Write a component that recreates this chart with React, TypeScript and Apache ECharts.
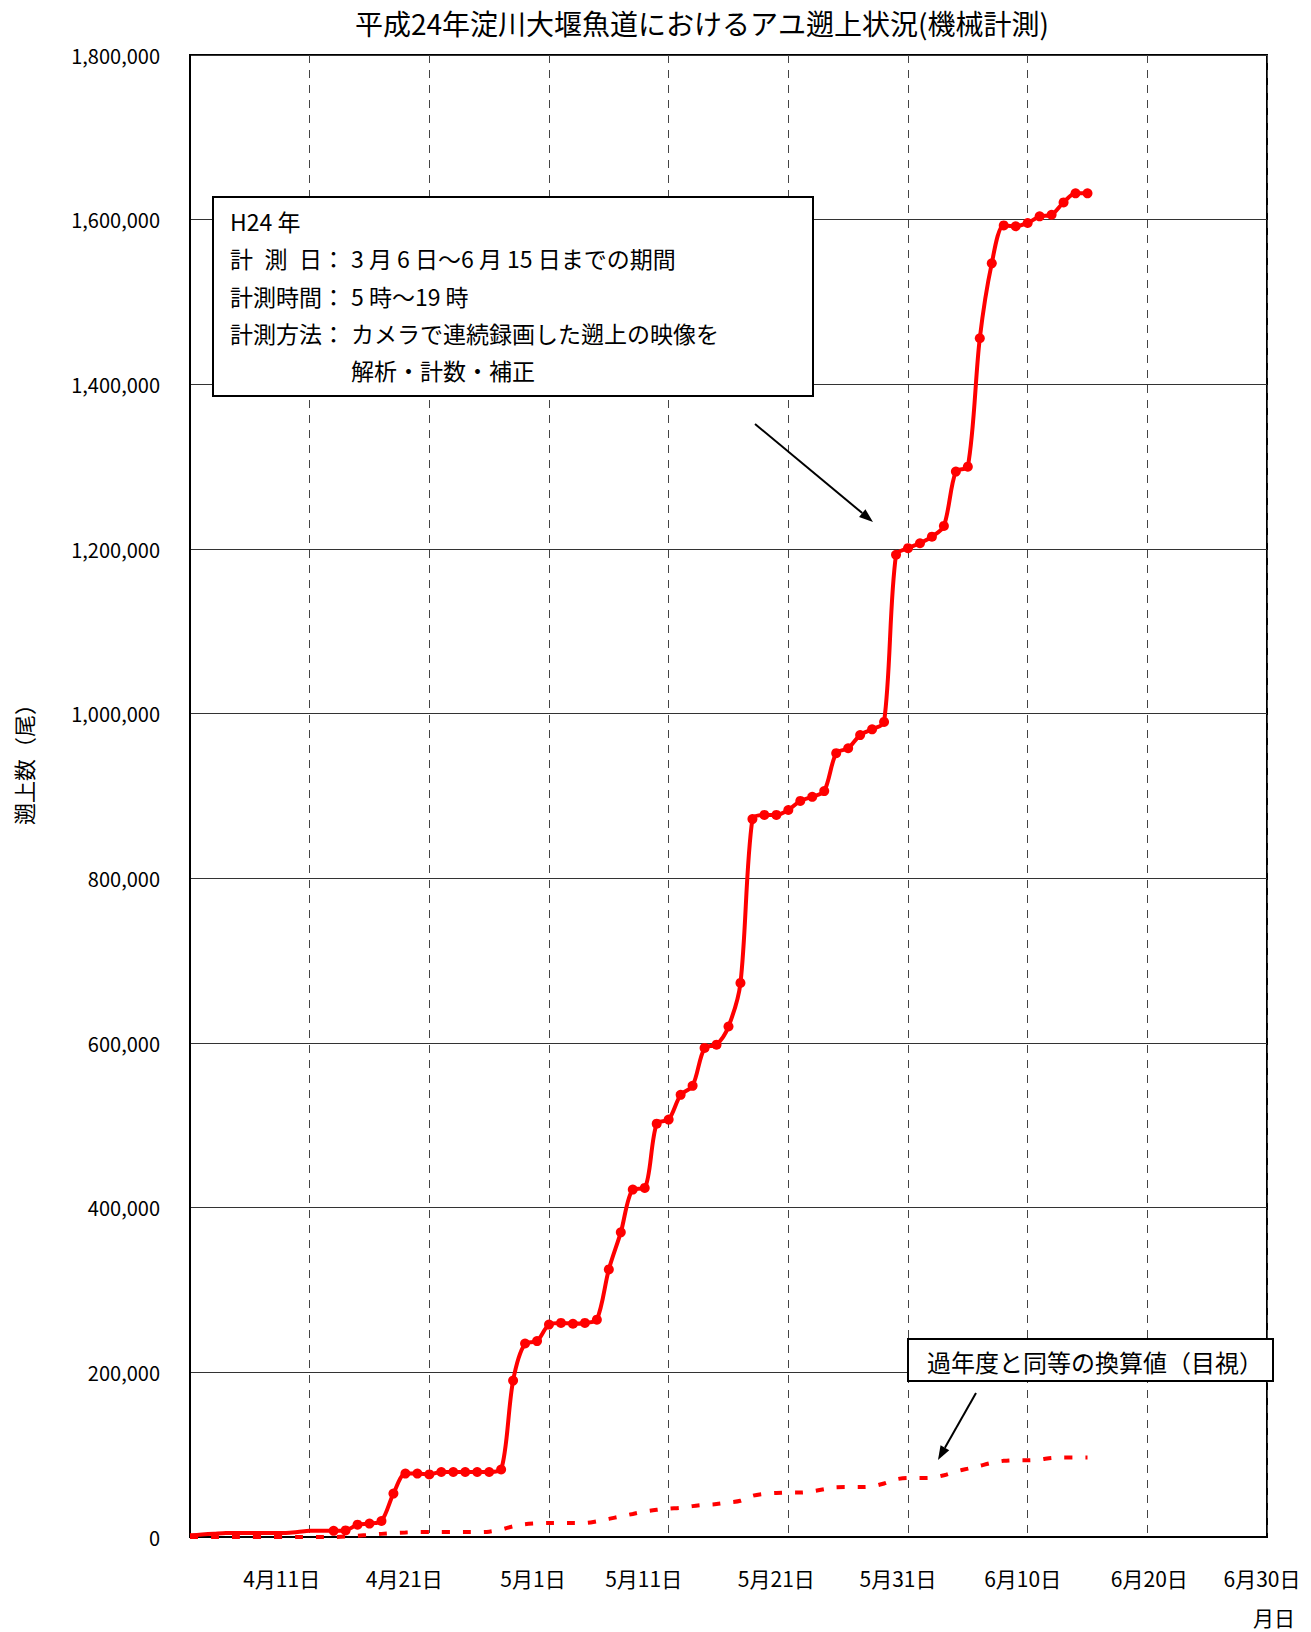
import React, { useEffect, useRef } from "react";
import * as echarts from "echarts";

const FONT = '"Noto Sans CJK JP", "Noto Sans", sans-serif';

// x value = days counted from 4月1日 (0 = 4月1日)
const measuredDays = [
  0, 1, 2, 3, 4, 5, 6, 7, 8, 9, 10, 11, 12, 13, 14, 15, 16, 17, 18, 19, 20, 21, 22, 23, 24, 25,
  26, 27, 28, 29, 30, 31, 32, 33, 34, 35, 36, 37, 38, 39, 40, 41, 42, 43, 44, 45, 46, 47, 48, 49,
  50, 51, 52, 53, 54, 55, 56, 57, 58, 59, 60, 61, 62, 63, 64, 65, 66, 67, 68, 69, 70, 71, 72, 73,
  74, 75,
];
// 機械計測 (累計遡上数)
const measuredCounts = [
  2000, 3000, 4000, 5000, 5000, 5000, 5000, 5000, 5000, 6000, 7500, 7500, 7500, 8000, 15000, 16300,
  19400, 52700, 77000, 77000, 76000, 79000, 79000, 79000, 79000, 79000, 82000, 190000, 235000,
  238000, 258000, 260000, 259000, 260000, 264000, 325000, 370000, 422000, 424000, 502000, 507000,
  537000, 548000, 594000, 598000, 620000, 673000, 872000, 877000, 877000, 883000, 894000, 899000,
  906000, 952000, 958000, 974000, 981000, 990000, 1193000, 1201000, 1207000, 1215000, 1228000,
  1294000, 1300000, 1456000, 1547000, 1593000, 1592000, 1596000, 1604000, 1606000, 1621000,
  1632000, 1632000,
];
const markerFromDay = 12;

// 過年度と同等の換算値（目視）
const estimatedDays = measuredDays;
const estimatedCounts = [
  0, 0, 0, 0, 0, 0, 0, 0, 0, 0, 0, 0, 0, 500, 1500, 2500, 3800, 4900, 5500, 6000, 6000, 6000, 6000,
  6000, 6000, 6500, 9000, 13000, 15500, 16500, 17000, 17000, 17000, 17000, 19000, 22000, 25000,
  28000, 31000, 33000, 34500, 35500, 37500, 39000, 40000, 42000, 44000, 50000, 52500, 53500, 54000,
  54000, 55500, 58000, 60500, 60700, 60700, 61500, 65000, 70000, 71700, 71700, 72000, 75000, 79500,
  83000, 86500, 90000, 92500, 93200, 93200, 94000, 96000, 96500, 96500, 96500,
];

const xTickDays = [10, 20, 30, 40, 50, 60, 70, 80, 90];
const xTickLabels = ["4月11日", "4月21日", "5月1日", "5月11日", "5月21日", "5月31日", "6月10日", "6月20日", "6月30日"];
const xLabelShift = [-28, -25, -16, -25, -12, -10, -5, 2, -5];

const titleText = "平成24年淀川大堰魚道におけるアユ遡上状況(機械計測)";
const yAxisName = "遡上数（尾）";
const xAxisName = "月日";
const noteLabels = ["H24 年", "計\u2002測\u2002日：", "計測時間：", "計測方法：", ""];
const noteValues = [
  "",
  "3 月 6 日～6 月 15 日までの期間",
  "5 時～19 時",
  "カメラで連続録画した遡上の映像を",
  "解析・計数・補正",
];
const estimateNote = "過年度と同等の換算値（目視）";

function arrow(x1: number, y1: number, x2: number, y2: number) {
  const dx = x2 - x1;
  const dy = y2 - y1;
  const len = Math.sqrt(dx * dx + dy * dy);
  const ux = dx / len;
  const uy = dy / len;
  const L = 14;
  const W = 10;
  const bx = x2 - ux * L;
  const by = y2 - uy * L;
  const nx = -uy;
  const ny = ux;
  return [
    { type: "line", shape: { x1, y1, x2: bx, y2: by }, style: { stroke: "#000", lineWidth: 2 }, z: 20 },
    {
      type: "polygon",
      shape: { points: [[x2, y2], [bx + (nx * W) / 2, by + (ny * W) / 2], [bx - (nx * W) / 2, by - (ny * W) / 2]] },
      style: { fill: "#000" },
      z: 20,
    },
  ];
}

export default function App() {
  const ref = useRef<HTMLDivElement>(null);
  useEffect(() => {
    if (!ref.current) return;
    const chart = echarts.init(ref.current, undefined, { renderer: "svg" });

    const rich: Record<string, any> = {};
    xLabelShift.forEach((s, i) => {
      rich["o" + i] = {
        fontSize: 21,
        fontFamily: FONT,
        color: "#000",
        padding: s < 0 ? [0, -2 * s, 0, 0] : [0, 0, 0, 2 * s],
      };
    });

    const noteGraphics: any[] = [
      {
        type: "rect",
        shape: { x: 213, y: 197, width: 600, height: 199 },
        style: { fill: "#fff", stroke: "#000", lineWidth: 2 },
        z: 15,
      },
    ];
    noteLabels.forEach((t, i) => {
      const y = 221 + i * 37.3;
      if (t) {
        noteGraphics.push({
          type: "text",
          x: 230,
          y,
          style: { text: t, fontSize: 23, fontFamily: FONT, fill: "#000", verticalAlign: "middle", align: "left" },
          z: 16,
        });
      }
      if (noteValues[i]) {
        noteGraphics.push({
          type: "text",
          x: 351,
          y,
          style: { text: noteValues[i], fontSize: 23, fontFamily: FONT, fill: "#000", verticalAlign: "middle", align: "left" },
          z: 16,
        });
      }
    });
    noteGraphics.push(
      {
        type: "rect",
        shape: { x: 908, y: 1339, width: 365, height: 42 },
        style: { fill: "#fff", stroke: "#000", lineWidth: 2 },
        z: 15,
      },
      {
        type: "text",
        x: 927,
        y: 1361,
        style: { text: estimateNote, fontSize: 24, fontFamily: FONT, fill: "#000", verticalAlign: "middle", align: "left" },
        z: 16,
      },
      ...arrow(755, 424, 873, 522),
      ...arrow(976, 1393, 938, 1460)
    );

    chart.setOption({
      animation: false,
      backgroundColor: "#fff",
      title: {
        text: titleText,
        left: 350,
        top: 4,
        textStyle: { fontSize: 28, fontWeight: "normal", fontFamily: FONT, color: "#000" },
      },
      grid: {
        left: 190,
        top: 55,
        right: 44,
        bottom: 95,
        show: true,
        borderColor: "#000",
        borderWidth: 2,
        containLabel: false,
        outerBoundsMode: "none",
      },
      xAxis: {
        type: "value",
        min: 0,
        max: 90,
        interval: 10,
        axisLine: { show: true, lineStyle: { color: "#000", width: 2 } },
        axisTick: { show: false },
        splitLine: { show: true, lineStyle: { color: "#444", width: 1, type: [8, 7] } },
        axisLabel: {
          margin: 30,
          showMaxLabel: true,
          fontSize: 21,
          fontFamily: FONT,
          color: "#000",
          formatter: (v: number) => {
            const i = xTickDays.indexOf(v);
            if (i < 0) return "";
            return "{o" + i + "|" + xTickLabels[i] + "}";
          },
          rich,
        },
        name: xAxisName,
        nameLocation: "end",
        nameGap: -14,
        nameTextStyle: { fontSize: 21, fontFamily: FONT, color: "#000", verticalAlign: "top", padding: [70, 0, 0, 0] },
      },
      yAxis: {
        type: "value",
        min: 0,
        max: 1800000,
        interval: 200000,
        axisLine: { show: true, lineStyle: { color: "#000", width: 2 } },
        axisTick: { show: false },
        splitLine: { show: true, lineStyle: { color: "#333", width: 1 } },
        axisLabel: {
          margin: 30,
          fontSize: 20,
          fontFamily: FONT,
          color: "#000",
          formatter: (v: number) => v.toLocaleString("en-US"),
        },
        name: yAxisName,
        nameLocation: "middle",
        nameGap: 156,
        nameRotate: 90,
        nameTextStyle: { fontSize: 22, fontFamily: FONT, color: "#000", padding: [0, 0, 0, 74] },
      },
      series: [
        {
          name: estimateNote,
          type: "line",
          data: estimatedDays.map((d, i) => [d, estimatedCounts[i]]),
          showSymbol: false,
          symbol: "none",
          smooth: 0.3,
          lineStyle: { color: "#ff0000", width: 4, type: [8, 13] },
          z: 3,
        },
        {
          name: "機械計測",
          type: "line",
          data: measuredDays.map((d, i) => ({
            value: [d, measuredCounts[i]],
            symbol: d >= markerFromDay ? "circle" : "none",
          })),
          symbolSize: 10,
          smooth: 0.3,
          itemStyle: { color: "#ff0000" },
          lineStyle: { color: "#ff0000", width: 4 },
          z: 4,
        },
      ],
      graphic: noteGraphics,
    });
    return () => chart.dispose();
  }, []);
  return (
    <div
      ref={ref}
      style={{ position: "absolute", left: 0, top: 0, width: 1311, height: 1632, background: "#fff" }}
    />
  );
}
